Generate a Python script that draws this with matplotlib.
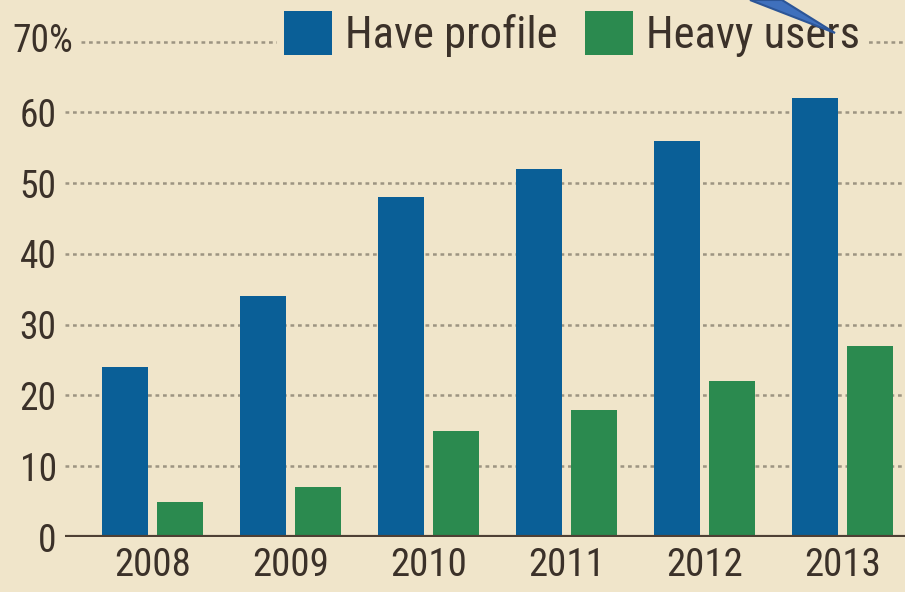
import numpy as np
import matplotlib.pyplot as plt
from matplotlib.patches import Polygon
from matplotlib.transforms import blended_transform_factory

plt.rcParams['font.family'] = ['Roboto Condensed', 'Liberation Sans Narrow', 'Roboto', 'DejaVu Sans']

# Data (% of respondents)
years = ['2008', '2009', '2010', '2011', '2012', '2013']
have_profile = [24, 34, 48, 52, 56, 62]
heavy_users = [5, 7, 15, 18, 22, 27]
yticks = [0, 10, 20, 30, 40, 50, 60]

bg = '#f0e5ca'
blue = '#0a5f97'
green = '#2b8a4f'
text_col = '#3b3129'
grid_col = '#9d9482'

W, H = 905, 592
fig = plt.figure(figsize=(W / 100, H / 100), dpi=100, facecolor=bg)
ax = fig.add_axes([65 / W, 55 / H, 840 / W, 537 / H])
ax.set_facecolor(bg)

x = np.arange(len(years))
bw = 0.333
ax.bar(x - 0.2, have_profile, width=bw, color=blue, zorder=2, label='Have profile')
ax.bar(x + 0.2, heavy_users, width=bw, color=green, zorder=2, label='Heavy users')

ax.set_xlim(-0.634, 5.453)
ax.set_ylim(0, 75.9)

# dotted gridlines
for v in yticks[1:]:
    ax.axhline(v, color=grid_col, lw=1.8, dashes=(1.5, 1.5), zorder=1)
ax.axhline(70, xmin=0.019, xmax=1, color=grid_col, lw=1.8, dashes=(1.5, 1.5), zorder=1)
ax.axhline(0, color='#4e4034', lw=3, zorder=3)

for s in ax.spines.values():
    s.set_visible(False)

ax.set_yticks(yticks)
ax.set_yticklabels([str(v) for v in yticks], fontsize=27, color=text_col)
ax.set_xticks(x)
ax.set_xticklabels(years, fontsize=28, color=text_col)
ax.tick_params(axis='y', length=0, pad=6)
ax.tick_params(axis='x', length=0, pad=7)

# top label with the percent sign hanging past the other labels
tr = blended_transform_factory(fig.transFigure, ax.transData)
ax.text(12 / W, 70, '70%', transform=tr, ha='left', va='center',
        fontsize=27, color=text_col)

leg = ax.legend(loc='center', bbox_to_anchor=(572 / W, 1 - 34 / H),
                bbox_transform=fig.transFigure, ncol=2, frameon=True,
                fontsize=32, handlelength=1.08, handleheight=1.15,
                handletextpad=0.3, columnspacing=0.6, borderpad=0.15,
                borderaxespad=0)
leg.get_frame().set_facecolor(bg)
leg.get_frame().set_edgecolor('none')
leg.get_frame().set_alpha(1)
for t in leg.get_texts():
    t.set_color(text_col)

# blue pointer arrow drawn over the legend
arrow = Polygon([(750 / W, 1.0), (782 / W, 1.0), (835 / W, 1 - 33 / H)],
                closed=True, transform=fig.transFigure, facecolor='#3f70bd',
                edgecolor='#2c5597', lw=1.5, zorder=10, clip_on=False)
ax.add_patch(arrow)

fig.savefig('out.png', dpi=100, facecolor=bg)
